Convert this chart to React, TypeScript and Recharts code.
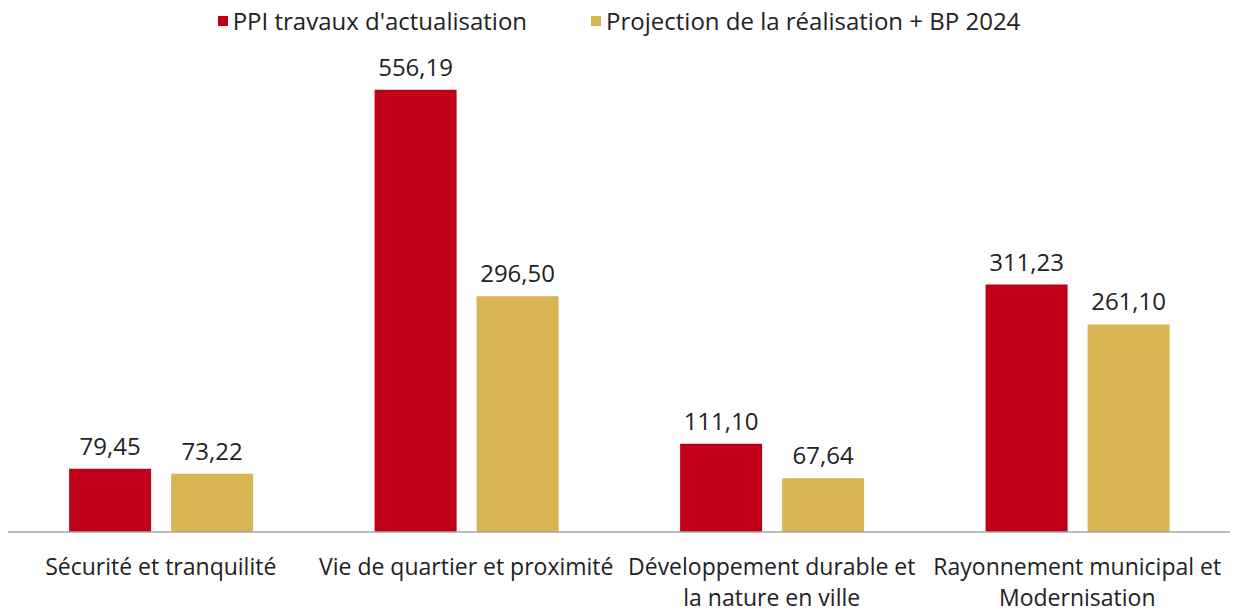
import React from 'react';
import { BarChart, Bar, XAxis, YAxis, Legend, LabelList } from 'recharts';

const categories = [
  'Sécurité et tranquilité',
  'Vie de quartier et proximité',
  'Développement durable et\nla nature en ville',
  'Rayonnement municipal et\nModernisation',
];
const ppiValues = [79.45, 556.19, 111.1, 311.23];
const projectionValues = [73.22, 296.5, 67.64, 261.1];

const SERIES = [
  { key: 'ppi', name: "PPI travaux d'actualisation", color: '#C00018' },
  { key: 'projection', name: 'Projection de la réalisation + BP 2024', color: '#D8B453' },
];

const FONT = '"Open Sans", "Noto Sans", sans-serif';

const data = categories.map((name, i) => ({
  name,
  ppi: ppiValues[i],
  projection: projectionValues[i],
}));

const fmt = (v: number) => v.toFixed(2).replace('.', ',');

const CategoryTick = ({ x, y, payload }: any) => {
  const lines = String(payload.value).split('\n');
  return (
    <text x={x} y={y} textAnchor="middle" fill="#222" fontSize={23} fontFamily={FONT}>
      {lines.map((line, i) => (
        <tspan key={i} x={x} dy={i === 0 ? 35 : 31}>
          {line}
        </tspan>
      ))}
    </text>
  );
};

const LegendContent = () => (
  <div style={{ display: 'flex', justifyContent: 'center', gap: 64, fontFamily: FONT, fontSize: 24, color: '#222' }}>
    {SERIES.map((s) => (
      <div key={s.key} style={{ display: 'flex', alignItems: 'center' }}>
        <span style={{ width: 10, height: 10, background: s.color, marginRight: 5, display: 'inline-block' }} />
        {s.name}
      </div>
    ))}
  </div>
);

export default function App() {
  return (
    <div style={{ position: 'fixed', left: 0, top: 0, background: '#fff' }}>
      <BarChart
        width={1238}
        height={609}
        data={data}
        margin={{ top: 22, right: 8, bottom: 0, left: 8 }}
        barCategoryGap="20%"
        barGap={20}
      >
        <Legend verticalAlign="top" wrapperStyle={{ top: 4 }} content={<LegendContent />} />
        <YAxis hide domain={[0, 600]} />
        <XAxis
          dataKey="name"
          height={77}
          interval={0}
          tickLine={false}
          axisLine={{ stroke: '#A6A6A6', strokeWidth: 1.5 }}
          tick={<CategoryTick />}
        />
        {SERIES.map((s) => (
          <Bar key={s.key} dataKey={s.key} name={s.name} fill={s.color} isAnimationActive={false}>
            <LabelList
              dataKey={s.key}
              position="top"
              offset={14}
              formatter={(v: any) => fmt(Number(v))}
              style={{ fontFamily: FONT, fontSize: 24, fill: '#222' }}
            />
          </Bar>
        ))}
      </BarChart>
    </div>
  );
}
